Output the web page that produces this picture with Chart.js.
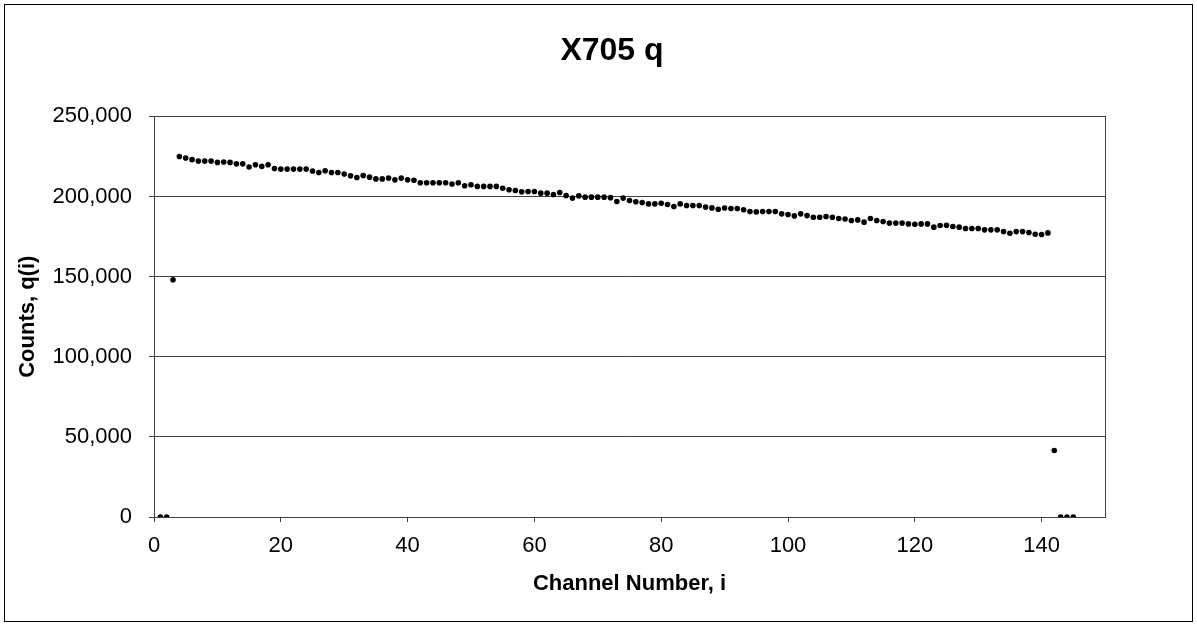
<!DOCTYPE html>
<html>
<head>
<meta charset="utf-8">
<script src="https://cdn.jsdelivr.net/npm/chart.js@4"></script>
<style>
  body { margin: 0; background: #fff; }
  #wrap { position: relative; width: 1197px; height: 626px; }
  #frame { position: absolute; left: 4px; top: 4px; width: 1187px; height: 616px; border: 1px solid #000; pointer-events: none; }
</style>
</head>
<body>
<div id="wrap">
  <canvas id="qChart" width="1197" height="626"></canvas>
  <div id="frame"></div>
</div>
<script>
// Channel numbers
const channels = [
    1, 2, 3, 4, 5, 6, 7, 8, 9, 10, 11, 12, 13, 14, 15, 16, 17, 18, 19, 20,
    21, 22, 23, 24, 25, 26, 27, 28, 29, 30, 31, 32, 33, 34, 35, 36, 37, 38, 39, 40,
    41, 42, 43, 44, 45, 46, 47, 48, 49, 50, 51, 52, 53, 54, 55, 56, 57, 58, 59, 60,
    61, 62, 63, 64, 65, 66, 67, 68, 69, 70, 71, 72, 73, 74, 75, 76, 77, 78, 79, 80,
    81, 82, 83, 84, 85, 86, 87, 88, 89, 90, 91, 92, 93, 94, 95, 96, 97, 98, 99, 100,
    101, 102, 103, 104, 105, 106, 107, 108, 109, 110, 111, 112, 113, 114, 115, 116, 117, 118, 119, 120,
    121, 122, 123, 124, 125, 126, 127, 128, 129, 130, 131, 132, 133, 134, 135, 136, 137, 138, 139, 140,
    141, 142, 143, 144, 145
];

// Counts q(i)
const counts = [
    0, 0, 148000, 225000, 224000, 223000, 222100, 222100, 222100, 221300,
    221500, 221300, 220400, 220400, 218400, 219800, 218800, 219800, 217500, 217100,
    217100, 217100, 217100, 217100, 215900, 215000, 216100, 215000, 215000, 214000,
    212900, 211900, 213100, 212100, 211000, 211000, 211500, 210400, 211500, 210400,
    210200, 208600, 208600, 208600, 208600, 208600, 207800, 208600, 206700, 207300,
    206300, 206300, 206300, 206300, 205200, 204200, 203800, 202900, 203100, 203100,
    202100, 202100, 201300, 202500, 200600, 199000, 200400, 199600, 199600, 199600,
    199600, 199300, 196900, 199000, 197500, 196700, 196300, 195400, 195400, 195800,
    195000, 193800, 195400, 194400, 194400, 194400, 193400, 192900, 192100, 192800,
    192500, 192500, 191700, 190600, 190400, 190600, 190600, 190600, 189200, 188800,
    187900, 189200, 188100, 187100, 187100, 187500, 187100, 186300, 185900, 185000,
    185400, 184000, 186300, 185000, 184400, 183400, 183400, 183400, 182900, 182700,
    182900, 182900, 180900, 181900, 182100, 181300, 180900, 180000, 180000, 180000,
    179200, 179200, 179200, 178100, 177100, 178100, 178100, 177500, 176500, 176300,
    177300, 41500, 0, 0, 0
];

const xTicks = [0, 20, 40, 60, 80, 100, 120, 140];
const yTicks = [0, 50000, 100000, 150000, 200000, 250000];

const FONT = 'Arial, "Liberation Sans", sans-serif';

// plot area frame
const plotFrame = {
    id: 'plotFrame',
    beforeDatasetsDraw(chart) {
        const {ctx, chartArea: a} = chart;
        ctx.save();
        ctx.strokeStyle = '#404040';
        ctx.lineWidth = 1;
        ctx.strokeRect(Math.round(a.left) + 0.5, Math.round(a.top) + 0.5,
            Math.round(a.right - a.left), Math.round(a.bottom - a.top));
        ctx.restore();
    }
};

const ctx = document.getElementById('qChart').getContext('2d');
new Chart(ctx, {
    type: 'scatter',
    data: {
        datasets: [{
            label: 'q',
            data: channels.map((c, i) => ({x: c, y: counts[i]})),
            pointRadius: 2.8,
            pointBorderWidth: 0,
            pointBackgroundColor: '#000',
            showLine: false
        }]
    },
    options: {
        responsive: false,
        animation: false,
        layout: {
            padding: {left: 27, right: 0, top: 0, bottom: 0}
        },
        plugins: {
            legend: {display: false},
            tooltip: {enabled: false},
            title: {
                display: true,
                text: 'X705 q',
                color: '#000',
                font: {family: FONT, size: 32, weight: 'bold'},
                padding: {top: 32, bottom: 46}
            }
        },
        scales: {
            x: {
                type: 'linear',
                min: 0,
                max: 150,
                afterFit(scale) { scale.height = 109; },
                afterBuildTicks(scale) { scale.ticks = xTicks.map(v => ({value: v})); },
                grid: {
                    drawOnChartArea: false,
                    drawTicks: true,
                    tickLength: 5,
                    tickColor: '#404040'
                },
                border: {display: false},
                ticks: {
                    color: '#000',
                    padding: 11,
                    maxRotation: 0,
                    font: {family: FONT, size: 22}
                },
                title: {
                    display: true,
                    text: 'Channel Number, i',
                    color: '#000',
                    font: {family: FONT, size: 22, weight: 'bold'},
                    padding: {top: 0, bottom: 29}
                }
            },
            y: {
                min: 0,
                max: 250000,
                afterFit(scale) { scale.width = 127; },
                afterBuildTicks(scale) { scale.ticks = yTicks.map(v => ({value: v})); },
                grid: {
                    color: '#404040',
                    lineWidth: 1,
                    drawTicks: true,
                    tickLength: 5,
                    tickColor: '#404040'
                },
                border: {display: false},
                ticks: {
                    color: '#000',
                    padding: 17,
                    font: {family: FONT, size: 22},
                    callback: v => v.toLocaleString('en-US')
                },
                title: {
                    display: true,
                    text: 'Counts, q(i)',
                    color: '#000',
                    font: {family: FONT, size: 22, weight: 'bold'},
                    padding: {top: -12, bottom: 0}
                }
            },
            // empty right-hand band so the plot ends where the reference does
            yRight: {
                position: 'right',
                min: 0,
                max: 1,
                afterFit(scale) { scale.width = 92; },
                grid: {display: false},
                border: {display: false},
                ticks: {display: false}
            }
        }
    },
    plugins: [plotFrame]
});
</script>
</body>
</html>
